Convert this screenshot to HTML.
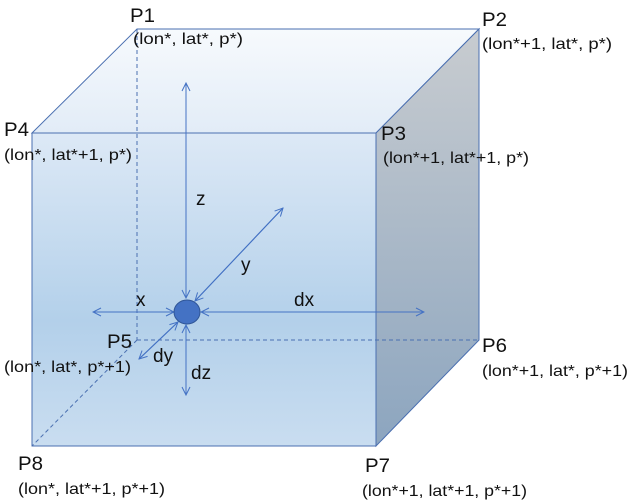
<!DOCTYPE html>
<html><head><style>body{margin:0;background:#fff}svg{display:block}text{font-family:"Liberation Sans",sans-serif;fill:#111}</style></head><body>
<svg width="633" height="503" viewBox="0 0 633 503">
<defs>
<linearGradient id="f" x1="0" y1="0" x2="0" y2="1"><stop offset="0" stop-color="#dde9f6"/><stop offset="0.6" stop-color="#b3d0ea"/><stop offset="1" stop-color="#c9ddf0"/></linearGradient>
<linearGradient id="t" x1="0" y1="0" x2="0" y2="1"><stop offset="0" stop-color="#f7fafd"/><stop offset="1" stop-color="#e2ecf7"/></linearGradient>
<linearGradient id="s" x1="0" y1="0" x2="0" y2="1"><stop offset="0" stop-color="#c8ccd0"/><stop offset="1" stop-color="#8ca5bf"/></linearGradient>
<marker id="a" markerWidth="10" markerHeight="10" refX="9" refY="5" orient="auto" markerUnits="userSpaceOnUse"><path d="M1,1 L9,5 L1,9" fill="none" stroke="#4472c4" stroke-width="1"/></marker>
</defs>
<polygon points="32,133 137,29 479,29 376,133" fill="url(#t)" stroke="#4a6fb0" stroke-width="1"/>
<polygon points="376,133 479,29 479,340 376,446" fill="url(#s)" stroke="#4a6fb0" stroke-width="1"/>
<rect x="32" y="133" width="344" height="313" fill="url(#f)" stroke="#4a6fb0" stroke-width="1"/>
<g stroke="#4a6fb0" stroke-width="1" stroke-dasharray="4,3" fill="none">
<line x1="137" y1="29" x2="137" y2="340"/><line x1="137" y1="340" x2="479" y2="340"/><line x1="137" y1="340" x2="32" y2="446"/>
</g>
<g stroke="#4472c4" stroke-width="1" fill="none">
<line x1="186" y1="298" x2="186" y2="83" marker-end="url(#a)"/>
<line x1="186" y1="83" x2="186" y2="298" marker-end="url(#a)"/>
<line x1="186" y1="325" x2="186" y2="395" marker-end="url(#a)"/>
<line x1="186" y1="395" x2="186" y2="325" marker-end="url(#a)"/>
<line x1="174" y1="312" x2="93" y2="312" marker-end="url(#a)"/>
<line x1="93" y1="312" x2="174" y2="312" marker-end="url(#a)"/>
<line x1="201" y1="312" x2="424" y2="312" marker-end="url(#a)"/>
<line x1="424" y1="312" x2="201" y2="312" marker-end="url(#a)"/>
<line x1="195" y1="301" x2="283" y2="208" marker-end="url(#a)"/>
<line x1="283" y1="208" x2="195" y2="301" marker-end="url(#a)"/>
<line x1="178" y1="322" x2="139" y2="359" marker-end="url(#a)"/>
<line x1="139" y1="359" x2="178" y2="322" marker-end="url(#a)"/>
</g>
<ellipse cx="187" cy="312" rx="13" ry="12" fill="#4472c4" stroke="#2f5597"/>
<g font-size="19">
<text x="130" y="22" textLength="25" lengthAdjust="spacingAndGlyphs">P1</text><text x="482" y="26" textLength="25" lengthAdjust="spacingAndGlyphs">P2</text><text x="4" y="136" textLength="25" lengthAdjust="spacingAndGlyphs">P4</text><text x="381" y="140" textLength="25" lengthAdjust="spacingAndGlyphs">P3</text>
<text x="107" y="348" textLength="25" lengthAdjust="spacingAndGlyphs">P5</text><text x="482" y="352" textLength="25" lengthAdjust="spacingAndGlyphs">P6</text><text x="18" y="470" textLength="25" lengthAdjust="spacingAndGlyphs">P8</text><text x="365" y="472" textLength="25" lengthAdjust="spacingAndGlyphs">P7</text>
<text x="196" y="205">z</text><text x="241" y="271">y</text><text x="136" y="306">x</text><text x="294" y="306">dx</text><text x="153" y="362">dy</text><text x="191" y="379">dz</text>
</g>
<g font-size="16">
<text x="133" y="44" textLength="110" lengthAdjust="spacingAndGlyphs">(lon*, lat*, p*)</text><text x="482" y="49" textLength="130" lengthAdjust="spacingAndGlyphs">(lon*+1, lat*, p*)</text>
<text x="4" y="160" textLength="128" lengthAdjust="spacingAndGlyphs">(lon*, lat*+1, p*)</text><text x="383" y="163" textLength="146" lengthAdjust="spacingAndGlyphs">(lon*+1, lat*+1, p*)</text>
<text x="4" y="372" textLength="127" lengthAdjust="spacingAndGlyphs">(lon*, lat*, p*+1)</text><text x="482" y="376" textLength="146" lengthAdjust="spacingAndGlyphs">(lon*+1, lat*, p*+1)</text>
<text x="18" y="494" textLength="147" lengthAdjust="spacingAndGlyphs">(lon*, lat*+1, p*+1)</text><text x="362" y="496" textLength="165" lengthAdjust="spacingAndGlyphs">(lon*+1, lat*+1, p*+1)</text>
</g>
</svg>
</body></html>
